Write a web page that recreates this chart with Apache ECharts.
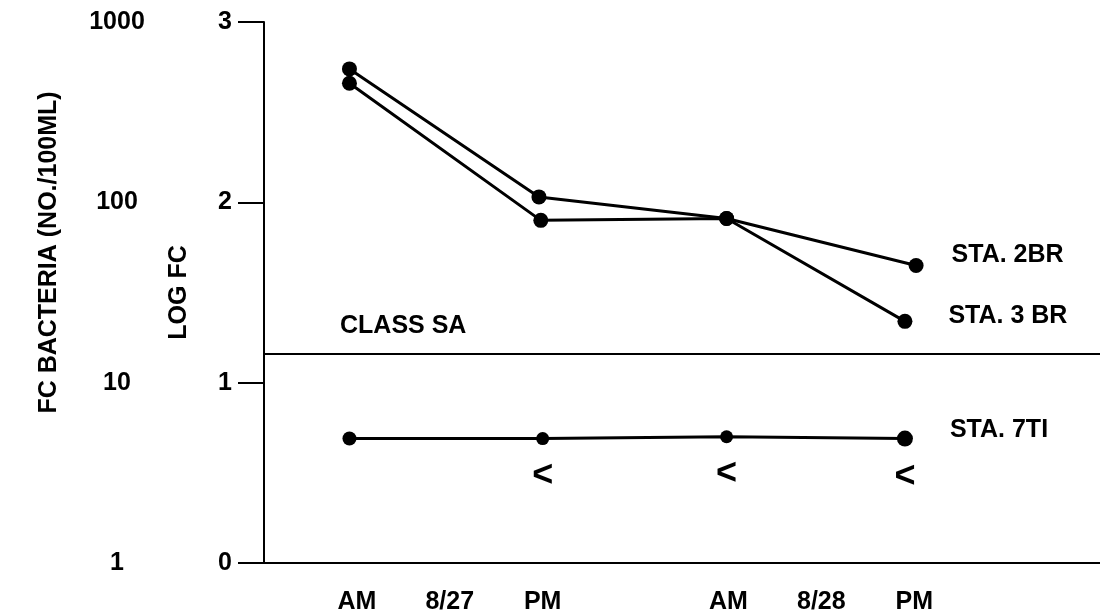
<!DOCTYPE html>
<html>
<head>
<meta charset="utf-8">
<script src="https://cdn.jsdelivr.net/npm/echarts@6/dist/echarts.min.js"></script>
<style>
html,body{margin:0;padding:0;background:#fff;}
#chart{width:1100px;height:615px;}
</style>
</head>
<body>
<div id="chart"></div>
<script>
// ---- data ----
// relative time scale: 8/27 centred on 1, 8/28 centred on 3 (AM/PM on either side)
var timesA = [0.46, 1.48, 2.49, 3.51];        // STA. 2BR
var timesB = [0.46, 1.49, 2.49, 3.45];        // STA. 3 BR
var timesC = [0.46, 1.50, 2.49, 3.45];        // STA. 7TI
var sta2BR = [2.74, 2.03, 1.91, 1.65];        // log FC
var sta3BR = [2.66, 1.90, 1.91, 1.34];
var sta7TI = [0.69, 0.69, 0.70, 0.69];
var lessThan7TI = [false, true, true, true];  // "<" : below detection
var classSA = 1.16;                            // log FC standard (CLASS SA)
var yTicksLog = [0, 1, 2, 3];
var yTicksCount = ['1', '10', '100', '1000'];
var xLabelPos = [0.5, 1, 1.5, 2.5, 3, 3.5];
var xLabelText = ['AM', '8/27', 'PM', 'AM', '8/28', 'PM'];
var seriesNames = ['STA. 2BR', 'STA. 3 BR', 'STA. 7TI'];

var FONT = '"Liberation Sans", Arial, Helvetica, sans-serif';
var FS = 25;

function pairs(xs, ys) {
  return ys.map(function (y, i) { return [xs[i], y]; });
}

var chart = echarts.init(document.getElementById('chart'), null, {renderer: 'canvas'});

var baseText = {color: '#000', fontFamily: FONT, fontSize: FS, fontWeight: 'bold'};

function endLabelData(xs, ys, name, offY, dist) {
  return pairs(xs, ys).map(function (p, i) {
    var d = {value: p};
    if (i === ys.length - 1) {
      d.label = Object.assign({show: true, position: 'right', distance: dist,
        offset: [0, offY], formatter: name}, baseText);
    }
    return d;
  });
}

var data7 = pairs(timesC, sta7TI).map(function (p, i) {
  var d = {value: p};
  if (lessThan7TI[i]) {
    d.label = {show: true, position: 'bottom', distance: 13, formatter: '<',
      color: '#000', fontFamily: FONT, fontSize: 36, fontWeight: 'bold'};
  }
  if (i === sta7TI.length - 1) d.symbolSize = 16;
  if (i === 0) d.symbolSize = 14;
  return d;
});

var option = {
  backgroundColor: '#fff',
  animation: false,
  grid: {left: 264, right: 0, top: 22, bottom: 52},
  xAxis: {
    type: 'value', min: 0, max: 4.5,
    axisLine: {show: true, onZero: false, lineStyle: {color: '#000', width: 2}},
    axisTick: {show: false},
    splitLine: {show: false},
    axisLabel: Object.assign({
      customValues: xLabelPos,
      margin: 27,
      formatter: function (v) {
        var i = xLabelPos.indexOf(v);
        return i >= 0 ? xLabelText[i] : '';
      }
    }, baseText)
  },
  yAxis: [
    {
      type: 'value', min: 0, max: 3, interval: 1,
      name: 'LOG FC', nameLocation: 'middle', nameGap: 72,
      nameTextStyle: Object.assign({}, baseText),
      axisLine: {show: true, lineStyle: {color: '#000', width: 2}},
      axisTick: {show: true, inside: false, length: 26, lineStyle: {color: '#000', width: 2}},
      splitLine: {show: false},
      axisLabel: Object.assign({margin: 32, formatter: function (v) { return String(v); }}, baseText)
    },
    {
      type: 'value', min: 0, max: 3, interval: 1, position: 'left', offset: 130,
      name: 'FC BACTERIA (NO./100ML)', nameLocation: 'middle', nameGap: 72,
      nameTextStyle: Object.assign({}, baseText, {padding: [0, 0, 0, 80]}),
      axisLine: {show: false},
      axisTick: {show: false},
      splitLine: {show: false},
      axisLabel: Object.assign({margin: 17, align: 'center', formatter: function (v) {
        var i = yTicksLog.indexOf(v);
        return i >= 0 ? yTicksCount[i] : '';
      }}, baseText)
    }
  ],
  series: [
    {
      name: seriesNames[0], type: 'line', yAxisIndex: 0,
      data: endLabelData(timesA, sta2BR, seriesNames[0], -10, 28),
      symbol: 'circle', symbolSize: 15,
      itemStyle: {color: '#000'},
      lineStyle: {color: '#000', width: 3},
      markLine: {
        silent: true, symbol: 'none',
        lineStyle: {color: '#000', width: 2, type: 'solid'},
        label: Object.assign({show: true, position: 'insideStartTop', formatter: 'CLASS SA',
          distance: [76, 15]}, baseText),
        data: [{yAxis: classSA}]
      },
      z: 3
    },
    {
      name: seriesNames[1], type: 'line', yAxisIndex: 0,
      data: endLabelData(timesB, sta3BR, seriesNames[1], -5, 36),
      symbol: 'circle', symbolSize: 15,
      itemStyle: {color: '#000'},
      lineStyle: {color: '#000', width: 3},
      z: 3
    },
    {
      name: seriesNames[2], type: 'line', yAxisIndex: 0,
      data: data7,
      symbol: 'circle', symbolSize: 13,
      itemStyle: {color: '#000'},
      lineStyle: {color: '#000', width: 3},
      endLabel: Object.assign({show: true, distance: 45, offset: [0, -8],
        formatter: seriesNames[2]}, baseText),
      z: 3
    }
  ]
};

chart.setOption(option);
</script>
</body>
</html>
